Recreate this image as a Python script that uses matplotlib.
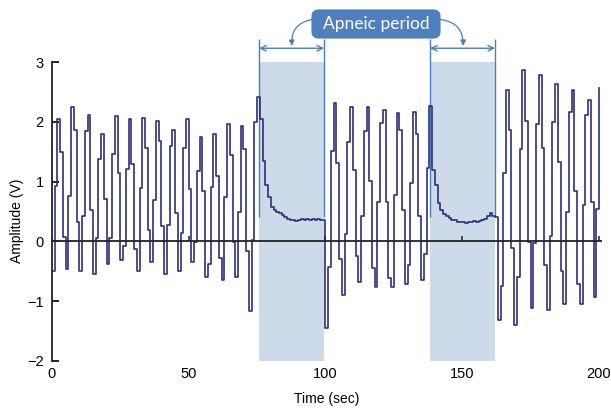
import numpy as np
import matplotlib
matplotlib.use("Agg")
import matplotlib.pyplot as plt
from matplotlib.patches import FancyBboxPatch

# ---------------- data ----------------
time_sec = np.arange(0, 201, 1)
amplitude = [
    # 0 - 75 s : normal breathing
    -0.49, 0.92, 2.05, 1.50, 0.07, -0.46, 0.76, 2.24, 1.86, 0.32,
    -0.50, 0.42, 1.85, 2.12, 0.52, -0.55, 0.05, 1.38, 1.79, 0.71,
    -0.37, 0.06, 1.46, 2.10, 1.15, -0.31, -0.07, 1.21, 2.04, 1.29,
    -0.13, -0.49, 0.90, 2.07, 1.57, 0.19, -0.35, 0.70, 2.02, 1.68,
    0.26, -0.54, 0.28, 1.59, 1.86, 0.48, -0.49, 0.14, 1.57, 2.04,
    0.88, -0.35, -0.01, 1.18, 1.74, 0.84, -0.60, -0.37, 0.91, 1.79,
    1.09, -0.28, -0.65, 0.74, 1.96, 1.45, -0.01, -0.60, 0.49, 1.93,
    1.55, -0.16, -1.16, 0.02, 1.99, 2.42,
    # 76 - 99 s : first apnea
    2.05, 1.35, 0.95, 0.75, 0.58, 0.52, 0.49, 0.47, 0.44, 0.40,
    0.37, 0.35, 0.36, 0.34, 0.35, 0.37, 0.36, 0.38, 0.36, 0.37,
    0.36, 0.38, 0.36, 0.35,
    # 100 - 138 s : breathing
    -1.44, -0.43, 1.52, 2.31, 1.31, -0.29, -0.90, 0.13, 1.67, 2.24,
    1.19, -0.25, -0.68, 0.43, 1.85, 2.24, 1.01, -0.44, -0.77, 0.66,
    1.98, 2.19, 0.66, -0.61, -0.77, 0.77, 2.14, 1.86, 0.52, -0.71,
    -0.39, 0.98, 2.16, 1.79, 0.42, -0.64, -0.21, 1.22, 2.26,
    # 139 - 162 s : second apnea
    1.19, 0.94, 0.65, 0.52, 0.46, 0.42, 0.39, 0.36, 0.35, 0.33,
    0.32, 0.33, 0.31, 0.33, 0.32, 0.34, 0.33, 0.34, 0.35, 0.37,
    0.43, 0.48, 0.42, 0.40,
    # 163 - 200 s : breathing
    -1.32, -0.75, 1.15, 2.53, 1.86, -0.11, -1.40, -0.59, 1.54, 2.86,
    2.02, -0.01, -1.12, -0.03, 1.96, 2.78, 1.56, -0.40, -1.15, 0.09,
    1.99, 2.64, 1.32, -0.49, -1.04, 0.50, 2.17, 2.53, 0.85, -0.72,
    -1.04, 0.61, 2.12, 2.36, 0.66, -0.93, 0.55, 2.56,
]
apnea_start = [75.7, 138.2]
apnea_end = [99.5, 162.0]
x_ticks = [0, 50, 100, 150, 200]
y_ticks = [-2, -1, 0, 1, 2, 3]
y_tick_labels = ["\u22122", "\u22121", "0", "1", "2", "3"]
annotation_label = "Apneic period"
x_label = "Time (sec)"
y_label = "Amplitude (V)"

# ---------------- figure ----------------
W, H = 611, 413
fig = plt.figure(figsize=(W / 100, H / 100), dpi=100)
ax = fig.add_axes([52 / W, 1 - 361 / H, 550 / W, 299 / H])
ax.set_xlim(0, 201.1)
ax.set_ylim(-2, 3)

shade_col = "#CCDAEA"
ann_col = "#4A7EBB"
line_col = "#2E2F78"

for s, e in zip(apnea_start, apnea_end):
    ax.axvspan(s, e, ymin=0, ymax=1, color=shade_col, lw=0, zorder=0)

ax.plot(time_sec, amplitude, drawstyle="steps-post", color=line_col,
        lw=1.2, zorder=2)

# zero line acting as the time axis
ax.axhline(0, color="#222222", lw=1.3, zorder=3)
ax.vlines(x_ticks, 0, 0.09, color="#222222", lw=1.1, zorder=3)

for sp in ["top", "right", "bottom"]:
    ax.spines[sp].set_visible(False)
ax.spines["left"].set_linewidth(1.3)
ax.spines["left"].set_color("#222222")

ax.set_xticks(x_ticks)
ax.set_yticks(y_ticks)
ax.set_yticklabels(y_tick_labels)
ax.tick_params(axis="x", length=0, pad=4, labelsize=10.5)
ax.tick_params(axis="y", direction="in", length=5, width=1.2, pad=6,
               labelsize=10.5)
for lab in ax.get_xticklabels() + ax.get_yticklabels():
    lab.set_fontfamily("Liberation Sans")

ax.set_xlabel(x_label, fontsize=10, family="Liberation Sans", labelpad=8)
ax.set_ylabel(y_label, fontsize=10, family="Liberation Sans")
ax.yaxis.set_label_coords(-0.05, 0.47)

# ---------------- annotation ----------------
arrow_y = 3.23
for s, e in zip(apnea_start, apnea_end):
    ax.annotate("", xy=(s, arrow_y), xytext=(e, arrow_y),
                arrowprops=dict(arrowstyle="<->", color=ann_col, lw=1.0,
                                shrinkA=0, shrinkB=0, mutation_scale=10),
                annotation_clip=False)
    ax.vlines([s, e], 0.40, 3.39, color=ann_col, lw=1.0, zorder=1,
              clip_on=False)

box = FancyBboxPatch((312 / W, 1 - 38 / H), 128 / W, 28 / H,
                     boxstyle="round,pad=0,rounding_size=0.011",
                     transform=fig.transFigure, mutation_aspect=W / H,
                     facecolor="#4F7FBE", edgecolor="#4A7AB8", lw=0.8)
fig.patches.append(box)
fig.text(376 / W, 1 - 24 / H, annotation_label, color="white", fontsize=12.5,
         family="Lato", ha="center", va="center")

ax.annotate("", xy=(87.8, 3.27), xytext=(95.0, 3.71),
            arrowprops=dict(arrowstyle="-|>", color=ann_col, lw=0.9,
                            connectionstyle="arc3,rad=0.45",
                            shrinkA=0, shrinkB=0, mutation_scale=8),
            annotation_clip=False)
ax.annotate("", xy=(150.3, 3.27), xytext=(142.0, 3.71),
            arrowprops=dict(arrowstyle="-|>", color=ann_col, lw=0.9,
                            connectionstyle="arc3,rad=-0.45",
                            shrinkA=0, shrinkB=0, mutation_scale=8),
            annotation_clip=False)

fig.savefig("out.png", dpi=100)
